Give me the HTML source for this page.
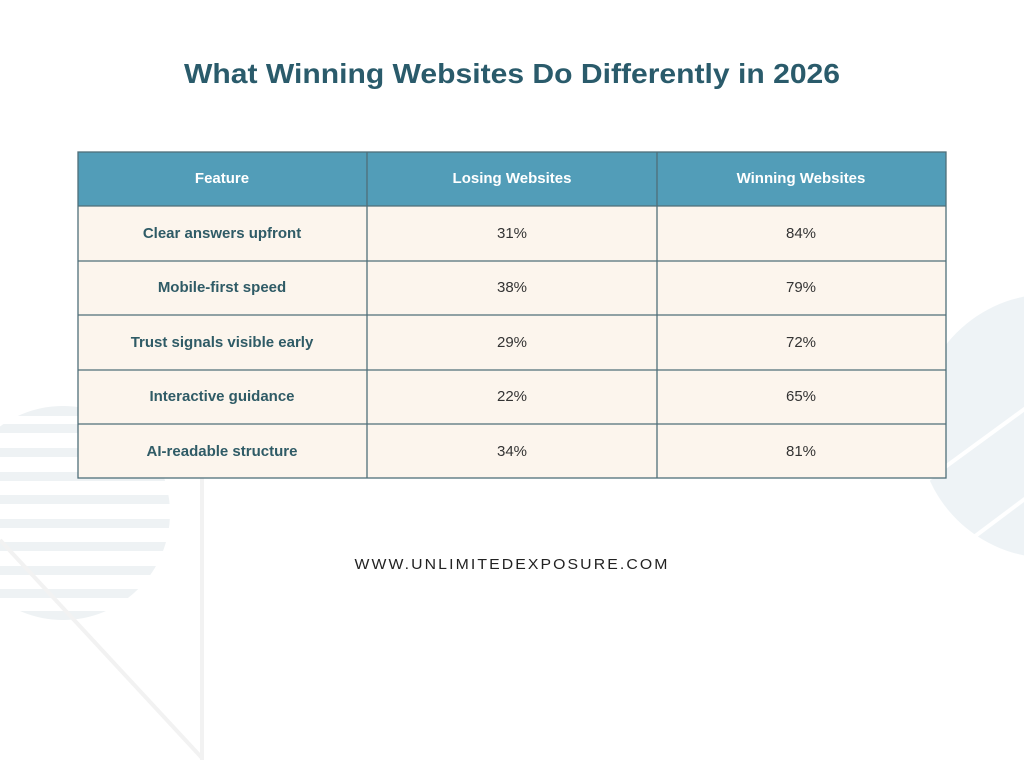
<!DOCTYPE html>
<html><head><meta charset="utf-8"><style>
html,body{margin:0;padding:0;background:#fff;}
svg{display:block;}
text{font-family:"Liberation Sans",sans-serif;}
</style></head><body>
<svg width="1024" height="768" viewBox="0 0 1024 768" xmlns="http://www.w3.org/2000/svg">
<defs>
<clipPath id="lc"><circle cx="63" cy="513" r="107"/></clipPath>
</defs>
<g clip-path="url(#lc)" fill="#eef2f4">
<rect x="0" y="405" width="180" height="11"/>
<rect x="0" y="424" width="180" height="9"/>
<rect x="0" y="448" width="180" height="9"/>
<rect x="0" y="472" width="180" height="9"/>
<rect x="0" y="495" width="180" height="9"/>
<rect x="0" y="519" width="180" height="9"/>
<rect x="0" y="542" width="180" height="9"/>
<rect x="0" y="566" width="180" height="9"/>
<rect x="0" y="589" width="180" height="9"/>
<rect x="0" y="611" width="180" height="12"/>
</g>
<line x1="202" y1="470" x2="202" y2="760" stroke="#f2f2f2" stroke-width="4"/>
<line x1="0" y1="540" x2="202" y2="758" stroke="#f2f2f2" stroke-width="4"/>
<circle cx="1050" cy="426" r="132" fill="#eef3f6"/>
<line x1="900" y1="500" x2="1030" y2="405" stroke="#fff" stroke-width="4"/>
<line x1="970" y1="540" x2="1030" y2="495" stroke="#fff" stroke-width="4"/>
<text x="512" y="83" text-anchor="middle" font-size="28" font-weight="bold" fill="#2a5b6b" textLength="656" lengthAdjust="spacingAndGlyphs">What Winning Websites Do Differently in 2026</text>
<rect x="78" y="152" width="868" height="54" fill="#529db8"/>
<rect x="78" y="206" width="868" height="272" fill="#fcf5ed"/>
<g stroke="#4f6f79" stroke-width="1.3" fill="none">
<rect x="78" y="152" width="868" height="326"/>
<line x1="367" y1="152" x2="367" y2="478"/>
<line x1="657" y1="152" x2="657" y2="478"/>
<line x1="78" y1="206" x2="946" y2="206"/>
<line x1="78" y1="261" x2="946" y2="261"/>
<line x1="78" y1="315" x2="946" y2="315"/>
<line x1="78" y1="370" x2="946" y2="370"/>
<line x1="78" y1="424" x2="946" y2="424"/>
</g>
<g font-size="15" font-weight="bold" fill="#fff" text-anchor="middle">
<text x="222" y="183">Feature</text>
<text x="512" y="183">Losing Websites</text>
<text x="801" y="183">Winning Websites</text>
</g>
<g font-size="15" font-weight="bold" fill="#2f5b66" text-anchor="middle">
<text x="222" y="238">Clear answers upfront</text>
<text x="222" y="292">Mobile-first speed</text>
<text x="222" y="347">Trust signals visible early</text>
<text x="222" y="401">Interactive guidance</text>
<text x="222" y="456">AI-readable structure</text>
</g>
<g font-size="15" fill="#333" text-anchor="middle">
<text x="512" y="238">31%</text><text x="801" y="238">84%</text>
<text x="512" y="292">38%</text><text x="801" y="292">79%</text>
<text x="512" y="347">29%</text><text x="801" y="347">72%</text>
<text x="512" y="401">22%</text><text x="801" y="401">65%</text>
<text x="512" y="456">34%</text><text x="801" y="456">81%</text>
</g>
<text x="512" y="569" text-anchor="middle" font-size="15" fill="#222" letter-spacing="2" textLength="315" lengthAdjust="spacingAndGlyphs">WWW.UNLIMITEDEXPOSURE.COM</text>
</svg>
</body></html>
